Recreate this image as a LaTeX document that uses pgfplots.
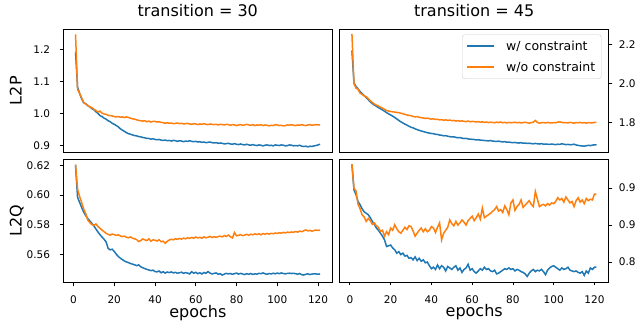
\documentclass[border=0pt]{standalone}
\usepackage{fontspec}
\setmainfont{DejaVu Sans}
\usepackage{pgfplots}
\usepackage{pgfplotstable}
\pgfplotsset{compat=1.18}
\definecolor{c0}{HTML}{1F77B4}
\definecolor{c1}{HTML}{FF7F0E}
\newcommand\tickfont{\fontsize{10.5}{12.6}\selectfont}
\newcommand\labfont{\fontsize{16}{19}\selectfont}
\newcommand\legfont{\fontsize{12.5}{15}\selectfont}
\newcommand\legstrut{\rule[-3.5pt]{0pt}{13.5pt}}

\pgfplotstableread{
e w wo
1 1.192 1.246
2 1.082 1.075
3 1.063 1.063
4 1.046 1.049
5 1.034 1.035
6 1.031 1.030
7 1.025 1.026
8 1.021 1.021
9 1.016 1.019
10 1.012 1.014
11 1.006 1.010
12 1.001 1.005
13 0.994 1.008
14 0.991 1.002
15 0.986 0.999
16 0.983 0.998
17 0.978 0.995
18 0.975 0.994
19 0.970 0.993
20 0.967 0.991
21 0.963 0.990
22 0.959 0.991
23 0.953 0.989
24 0.949 0.990
25 0.945 0.988
26 0.941 0.990
27 0.938 0.988
28 0.936 0.986
29 0.934 0.984
30 0.932 0.983
31 0.931 0.981
32 0.929 0.979
33 0.928 0.978
34 0.926 0.977
35 0.925 0.978
36 0.923 0.975
37 0.923 0.977
38 0.921 0.974
39 0.922 0.976
40 0.920 0.976
41 0.919 0.974
42 0.920 0.975
43 0.918 0.973
44 0.917 0.972
45 0.918 0.970
46 0.916 0.972
47 0.917 0.970
48 0.915 0.971
49 0.917 0.969
50 0.916 0.970
51 0.914 0.971
52 0.916 0.969
53 0.915 0.970
54 0.913 0.968
55 0.915 0.969
56 0.914 0.970
57 0.916 0.968
58 0.914 0.967
59 0.913 0.969
60 0.914 0.968
61 0.912 0.966
62 0.913 0.968
63 0.911 0.967
64 0.912 0.969
65 0.910 0.967
66 0.911 0.966
67 0.912 0.968
68 0.910 0.967
69 0.909 0.966
70 0.910 0.967
71 0.908 0.965
72 0.909 0.967
73 0.908 0.966
74 0.906 0.965
75 0.907 0.967
76 0.908 0.966
77 0.906 0.964
78 0.905 0.966
79 0.907 0.965
80 0.905 0.963
81 0.904 0.965
82 0.906 0.966
83 0.904 0.964
84 0.903 0.965
85 0.905 0.967
86 0.903 0.965
87 0.902 0.964
88 0.904 0.966
89 0.902 0.963
90 0.901 0.965
91 0.903 0.964
92 0.902 0.966
93 0.900 0.963
94 0.902 0.965
95 0.903 0.964
96 0.901 0.962
97 0.902 0.964
98 0.900 0.963
99 0.903 0.966
100 0.902 0.965
101 0.901 0.963
102 0.903 0.964
103 0.902 0.962
104 0.900 0.963
105 0.901 0.965
106 0.903 0.964
107 0.902 0.966
108 0.900 0.964
109 0.901 0.963
110 0.900 0.965
111 0.902 0.964
112 0.899 0.966
113 0.898 0.964
114 0.899 0.963
115 0.897 0.965
116 0.899 0.966
117 0.898 0.964
118 0.900 0.965
119 0.901 0.966
120 0.903 0.965
121 0.905 0.965
}\dataA

\pgfplotstableread{
e w wo
1 2.171 2.256
2 2.005 2.000
3 1.986 1.978
4 1.974 1.972
5 1.960 1.952
6 1.950 1.946
7 1.940 1.938
8 1.929 1.934
9 1.919 1.924
10 1.907 1.913
11 1.899 1.905
12 1.891 1.896
13 1.885 1.891
14 1.878 1.886
15 1.872 1.880
16 1.866 1.875
17 1.859 1.869
18 1.852 1.863
19 1.846 1.860
20 1.840 1.858
21 1.834 1.856
22 1.827 1.855
23 1.820 1.853
24 1.812 1.852
25 1.805 1.849
26 1.799 1.846
27 1.793 1.843
28 1.788 1.840
29 1.782 1.838
30 1.777 1.836
31 1.774 1.833
32 1.769 1.830
33 1.765 1.832
34 1.761 1.828
35 1.758 1.826
36 1.755 1.825
37 1.752 1.822
38 1.749 1.824
39 1.747 1.821
40 1.745 1.819
41 1.744 1.820
42 1.741 1.817
43 1.740 1.818
44 1.737 1.815
45 1.736 1.816
46 1.733 1.813
47 1.734 1.815
48 1.731 1.812
49 1.729 1.814
50 1.727 1.811
51 1.728 1.812
52 1.725 1.809
53 1.723 1.811
54 1.724 1.808
55 1.721 1.810
56 1.719 1.807
57 1.720 1.806
58 1.717 1.809
59 1.716 1.805
60 1.715 1.807
61 1.714 1.806
62 1.712 1.804
63 1.713 1.806
64 1.711 1.803
65 1.710 1.805
66 1.709 1.802
67 1.708 1.804
68 1.707 1.801
69 1.709 1.803
70 1.706 1.802
71 1.705 1.800
72 1.704 1.803
73 1.706 1.801
74 1.703 1.804
75 1.702 1.800
76 1.703 1.802
77 1.700 1.799
78 1.701 1.802
79 1.699 1.800
80 1.698 1.801
81 1.699 1.803
82 1.697 1.800
83 1.696 1.802
84 1.698 1.799
85 1.695 1.801
86 1.696 1.803
87 1.694 1.800
88 1.695 1.798
89 1.693 1.801
90 1.692 1.803
91 1.694 1.812
92 1.692 1.802
93 1.691 1.798
94 1.693 1.800
95 1.690 1.801
96 1.691 1.799
97 1.690 1.802
98 1.689 1.800
99 1.691 1.799
100 1.689 1.801
101 1.688 1.800
102 1.690 1.803
103 1.689 1.805
104 1.692 1.802
105 1.690 1.800
106 1.688 1.801
107 1.689 1.799
108 1.687 1.802
109 1.688 1.800
110 1.690 1.798
111 1.686 1.801
112 1.684 1.800
113 1.682 1.802
114 1.681 1.799
115 1.680 1.801
116 1.682 1.798
117 1.684 1.801
118 1.683 1.800
119 1.685 1.799
120 1.687 1.802
121 1.686 1.802
}\dataB

\pgfplotstableread{
e w wo
1 0.6200 0.6205
2 0.5984 0.6040
3 0.5951 0.5990
4 0.5917 0.5950
5 0.5886 0.5906
6 0.5862 0.5875
7 0.5842 0.5832
8 0.5826 0.5815
9 0.5810 0.5802
10 0.5793 0.5796
11 0.5772 0.5806
12 0.5752 0.5789
13 0.5734 0.5776
14 0.5718 0.5765
15 0.5703 0.5754
16 0.5685 0.5743
17 0.5642 0.5736
18 0.5632 0.5731
19 0.5636 0.5738
20 0.5621 0.5734
21 0.5603 0.5729
22 0.5587 0.5733
23 0.5576 0.5725
24 0.5566 0.5721
25 0.5557 0.5724
26 0.5551 0.5716
27 0.5546 0.5713
28 0.5540 0.5719
29 0.5536 0.5710
30 0.5531 0.5706
31 0.5526 0.5701
32 0.5531 0.5688
33 0.5518 0.5694
34 0.5512 0.5705
35 0.5506 0.5699
36 0.5501 0.5694
37 0.5497 0.5706
38 0.5492 0.5690
39 0.5496 0.5699
40 0.5486 0.5697
41 0.5484 0.5691
42 0.5490 0.5700
43 0.5478 0.5686
44 0.5485 0.5690
45 0.5476 0.5676
46 0.5483 0.5689
47 0.5479 0.5698
48 0.5484 0.5703
49 0.5477 0.5699
50 0.5481 0.5707
51 0.5475 0.5702
52 0.5478 0.5709
53 0.5482 0.5704
54 0.5474 0.5711
55 0.5479 0.5706
56 0.5476 0.5713
57 0.5470 0.5709
58 0.5485 0.5715
59 0.5475 0.5710
60 0.5481 0.5718
61 0.5472 0.5712
62 0.5478 0.5716
63 0.5470 0.5710
64 0.5480 0.5719
65 0.5474 0.5713
66 0.5486 0.5717
67 0.5476 0.5722
68 0.5470 0.5715
69 0.5474 0.5720
70 0.5477 0.5716
71 0.5468 0.5721
72 0.5472 0.5724
73 0.5462 0.5719
74 0.5469 0.5727
75 0.5474 0.5722
76 0.5470 0.5731
77 0.5473 0.5720
78 0.5468 0.5712
79 0.5472 0.5748
80 0.5476 0.5726
81 0.5469 0.5729
82 0.5474 0.5734
83 0.5470 0.5727
84 0.5466 0.5731
85 0.5472 0.5736
86 0.5468 0.5730
87 0.5473 0.5737
88 0.5467 0.5733
89 0.5471 0.5739
90 0.5469 0.5735
91 0.5474 0.5740
92 0.5472 0.5733
93 0.5477 0.5741
94 0.5471 0.5737
95 0.5468 0.5742
96 0.5473 0.5738
97 0.5470 0.5743
98 0.5475 0.5740
99 0.5471 0.5745
100 0.5476 0.5742
101 0.5472 0.5747
102 0.5477 0.5744
103 0.5473 0.5749
104 0.5471 0.5746
105 0.5474 0.5751
106 0.5475 0.5748
107 0.5473 0.5752
108 0.5474 0.5750
109 0.5472 0.5755
110 0.5468 0.5751
111 0.5473 0.5758
112 0.5465 0.5754
113 0.5463 0.5760
114 0.5468 0.5766
115 0.5471 0.5759
116 0.5466 0.5763
117 0.5469 0.5757
118 0.5471 0.5762
119 0.5470 0.5765
120 0.5469 0.5763
121 0.5470 0.5764
}\dataC

\pgfplotstableread{
e w wo
1 0.9824 0.9824
2 0.9477 0.9500
3 0.9410 0.9460
4 0.9320 0.9280
5 0.9275 0.9220
6 0.9220 0.9140
7 0.9180 0.9110
8 0.9160 0.9050
9 0.9140 0.9090
10 0.9100 0.9060
11 0.9050 0.9010
12 0.9010 0.9030
13 0.8960 0.8990
14 0.8930 0.8970
15 0.8890 0.8915
16 0.8850 0.8930
17 0.8800 0.8850
18 0.8710 0.8910
19 0.8720 0.8870
20 0.8730 0.8960
21 0.8690 0.8930
22 0.8666 0.9005
23 0.8620 0.8950
24 0.8640 0.8910
25 0.8600 0.8890
26 0.8620 0.8930
27 0.8580 0.8970
28 0.8590 0.8940
29 0.8550 0.8990
30 0.8560 0.8980
31 0.8530 0.8920
32 0.8570 0.8850
33 0.8520 0.8890
34 0.8550 0.8930
35 0.8510 0.8960
36 0.8530 0.8910
37 0.8490 0.8950
38 0.8500 0.8910
39 0.8450 0.8930
40 0.8410 0.8980
41 0.8430 0.8960
42 0.8400 0.8900
43 0.8460 0.8970
44 0.8410 0.9030
45 0.8450 0.8800
46 0.8430 0.8890
47 0.8380 0.8930
48 0.8440 0.8970
49 0.8420 0.9070
50 0.8400 0.9020
51 0.8430 0.8990
52 0.8450 0.9050
53 0.8390 0.9000
54 0.8420 0.9030
55 0.8360 0.9070
56 0.8400 0.9040
57 0.8420 0.9000
58 0.8470 0.9060
59 0.8390 0.9090
60 0.8410 0.9120
61 0.8370 0.9060
62 0.8350 0.9100
63 0.8380 0.9150
64 0.8410 0.9080
65 0.8390 0.9230
66 0.8430 0.9100
67 0.8400 0.9120
68 0.8410 0.9140
69 0.8380 0.9160
70 0.8370 0.9185
71 0.8390 0.9210
72 0.8340 0.9250
73 0.8350 0.9190
74 0.8370 0.9210
75 0.8390 0.9170
76 0.8410 0.9260
77 0.8400 0.9210
78 0.8420 0.9140
79 0.8400 0.9300
80 0.8410 0.9340
81 0.8380 0.9200
82 0.8400 0.9250
83 0.8390 0.9280
84 0.8370 0.9340
85 0.8360 0.9240
86 0.8340 0.9270
87 0.8305 0.9300
88 0.8350 0.9330
89 0.8380 0.9280
90 0.8400 0.9250
91 0.8370 0.9455
92 0.8390 0.9350
93 0.8380 0.9250
94 0.8400 0.9270
95 0.8370 0.9280
96 0.8330 0.9260
97 0.8390 0.9290
98 0.8420 0.9270
99 0.8440 0.9300
100 0.8450 0.9290
101 0.8430 0.9320
102 0.8410 0.9370
103 0.8390 0.9340
104 0.8420 0.9360
105 0.8400 0.9310
106 0.8410 0.9380
107 0.8430 0.9340
108 0.8390 0.9300
109 0.8380 0.9320
110 0.8370 0.9250
111 0.8380 0.9330
112 0.8360 0.9370
113 0.8350 0.9310
114 0.8370 0.9340
115 0.8320 0.9290
116 0.8380 0.9360
117 0.8350 0.9330
118 0.8420 0.9350
119 0.8400 0.9340
120 0.8430 0.9420
121 0.8430 0.9420
}\dataD

\pgfplotsset{
  panel/.style={
    scale only axis,
    width=269pt, height=122.7pt,
    anchor=north west,
    xmin=-5, xmax=127,
    axis line style={black, line width=0.8pt},
    tick style={black, line width=0.8pt},
    tick align=outside,
    major tick length=3.5pt,
    ticklabel style={font=\tickfont},
    /pgf/number format/assume math mode=true,
    /pgf/number format/fixed,
    /pgf/number format/fixed zerofill,
    title style={font=\labfont, at={(axis description cs:0.5,1)}, anchor=base, yshift=7pt},
    label style={font=\labfont},
    xlabel style={at={(axis description cs:0.5,0)}, anchor=base, yshift=-35pt},
    ylabel style={at={(axis description cs:-0.1547,0.5)}, rotate=0, anchor=base},
  },
  toprow/.style={xtick=\empty},
  botrow/.style={xtick={0,20,40,60,80,100,120}, xtick pos=left,
    xticklabel style={anchor=north, inner sep=0pt, yshift=-10pt},
    xlabel={epochs},
    /pgf/number format/precision=0},
  leftcol/.style={ytick pos=left, yticklabel style={anchor=east, inner sep=0pt, xshift=-9.5pt}},
  rightcol/.style={ytick pos=right, yticklabel pos=right, yticklabel style={anchor=west, inner sep=0pt, xshift=6.5pt}},
}

\begin{document}
\begin{tikzpicture}
% top-left
\begin{axis}[panel, toprow, leftcol, at={(63.3pt,301.7pt)},
  ymin=0.881, ymax=1.262, ytick={0.9,1.0,1.1,1.2},
  yticklabel style={/pgf/number format/precision=1},
  title={transition = 30}, ylabel={L2P}]
\addplot[c0, line width=1.5pt, mark=none] table[x=e, y=w] {\dataA};
\addplot[c1, line width=1.5pt, mark=none] table[x=e, y=wo] {\dataA};
\end{axis}
% top-right
\begin{axis}[panel, toprow, rightcol, at={(339.7pt,301.7pt)},
  ymin=1.650, ymax=2.280, ytick={1.8,2.0,2.2},
  yticklabel style={/pgf/number format/precision=1},
  title={transition = 45},
  legend style={at={(rel axis cs:0.973,0.9575)}, anchor=north east,
    draw=black!20, rounded corners=2.5pt, fill=white,
    font=\legfont, inner xsep=4pt, inner ysep=3.75pt, row sep=5.5pt, column sep=9pt,
    cells={anchor=west, fill=none, inner sep=0pt}},
  legend image code/.code={\draw[#1, line width=1.5pt, sharp corners] (0pt,0pt) -- (27.5pt,0pt);}]
\addplot[c0, line width=1.5pt, mark=none] table[x=e, y=w] {\dataB};
\addlegendentry{\legstrut w/ constraint}
\addplot[c1, line width=1.5pt, mark=none] table[x=e, y=wo] {\dataB};
\addlegendentry{\legstrut w/o constraint}
\end{axis}
% bottom-left
\begin{axis}[panel, botrow, leftcol, at={(63.3pt,171.7pt)},
  ymin=0.5416, ymax=0.6240, ytick={0.56,0.58,0.60,0.62},
  yticklabel style={/pgf/number format/precision=2},
  ylabel={L2Q}]
\addplot[c0, line width=1.5pt, mark=none] table[x=e, y=w] {\dataC};
\addplot[c1, line width=1.5pt, mark=none] table[x=e, y=wo] {\dataC};
\end{axis}
% bottom-right
\begin{axis}[panel, botrow, rightcol, at={(339.7pt,171.7pt)},
  ymin=0.823, ymax=0.989, ytick={0.85,0.90,0.95},
  yticklabel style={/pgf/number format/precision=2}]
\addplot[c0, line width=1.5pt, mark=none] table[x=e, y=w] {\dataD};
\addplot[c1, line width=1.5pt, mark=none] table[x=e, y=wo] {\dataD};
\end{axis}
\pgfresetboundingbox
\useasboundingbox (0pt,0pt) rectangle (636pt,331pt);
\end{tikzpicture}
\end{document}
